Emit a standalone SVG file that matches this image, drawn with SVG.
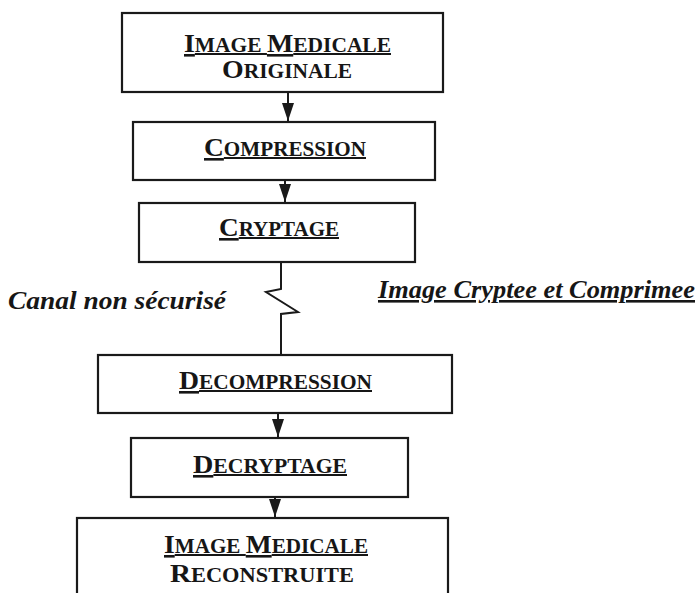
<svg xmlns="http://www.w3.org/2000/svg" width="699" height="593" viewBox="0 0 699 593">
<style>
.box{fill:#fff;stroke:#1a1a1a;stroke-width:2.2}
.t{font-family:"Liberation Serif","Times New Roman",serif;font-weight:bold;fill:#161616}
.u{text-decoration:underline}
.bg{font-size:26px}
.sm{font-size:20px}
.it{font-family:"Liberation Serif","Times New Roman",serif;font-weight:bold;font-style:italic;font-size:26px;fill:#161616}
.ln{stroke:#1a1a1a;stroke-width:2;fill:none}
</style>
<defs>
<marker id="ah" markerUnits="userSpaceOnUse" markerWidth="18" markerHeight="12" refX="18" refY="6" orient="auto" viewBox="0 0 18 12">
<path d="M0,0 L18,6 L0,12 Z" fill="#1a1a1a"/>
</marker>
</defs>
<rect width="699" height="593" fill="#fff"/>
<g id="connectors">
<line class="ln" x1="288" y1="93" x2="288" y2="121" marker-end="url(#ah)"/>
<line class="ln" x1="285" y1="180" x2="285" y2="202" marker-end="url(#ah)"/>
<path class="ln" d="M281,262 V289 L266,292 L298,312 L281,314 V355"/>
<line class="ln" x1="278" y1="413" x2="278" y2="437" marker-end="url(#ah)"/>
<line class="ln" x1="275" y1="497" x2="275" y2="517" marker-end="url(#ah)"/>
</g>
<g id="image-originale">
<rect class="box" x="122" y="13" width="321" height="79"/>
<text class="t u" x="184" y="52" textLength="207" lengthAdjust="spacingAndGlyphs"><tspan class="bg">I</tspan><tspan class="sm">MAGE </tspan><tspan class="bg">M</tspan><tspan class="sm">EDICALE</tspan></text>
<text class="t" x="222" y="78" textLength="130" lengthAdjust="spacingAndGlyphs"><tspan class="bg">O</tspan><tspan class="sm">RIGINALE</tspan></text>
</g>
<g id="compression">
<rect class="box" x="133" y="122" width="302" height="58"/>
<text class="t u" x="204" y="156" textLength="162" lengthAdjust="spacingAndGlyphs"><tspan class="bg">C</tspan><tspan class="sm">OMPRESSION</tspan></text>
</g>
<g id="cryptage">
<rect class="box" x="139" y="203" width="276" height="59"/>
<text class="t u" x="219" y="236" textLength="120" lengthAdjust="spacingAndGlyphs"><tspan class="bg">C</tspan><tspan class="sm">RYPTAGE</tspan></text>
</g>
<g id="canal">
<text class="it" x="8" y="309" textLength="218" lengthAdjust="spacingAndGlyphs">Canal non sécurisé</text>
<text class="it u" x="378" y="298" textLength="317" lengthAdjust="spacingAndGlyphs">Image Cryptee et Comprimee</text>
</g>
<g id="decompression">
<rect class="box" x="98" y="355" width="354" height="58"/>
<text class="t u" x="179" y="389" textLength="193" lengthAdjust="spacingAndGlyphs"><tspan class="bg">D</tspan><tspan class="sm">ECOMPRESSION</tspan></text>
</g>
<g id="decryptage">
<rect class="box" x="131" y="438" width="277" height="59"/>
<text class="t u" x="193" y="473" textLength="154" lengthAdjust="spacingAndGlyphs"><tspan class="bg">D</tspan><tspan class="sm">ECRYPTAGE</tspan></text>
</g>
<g id="image-reconstruite">
<rect class="box" x="77" y="518" width="371" height="100"/>
<text class="t u" x="164" y="553" textLength="204" lengthAdjust="spacingAndGlyphs"><tspan class="bg">I</tspan><tspan class="sm">MAGE </tspan><tspan class="bg">M</tspan><tspan class="sm">EDICALE</tspan></text>
<text class="t" x="170" y="582" textLength="184" lengthAdjust="spacingAndGlyphs"><tspan class="bg">R</tspan><tspan class="sm">ECONSTRUITE</tspan></text>
</g>
</svg>
